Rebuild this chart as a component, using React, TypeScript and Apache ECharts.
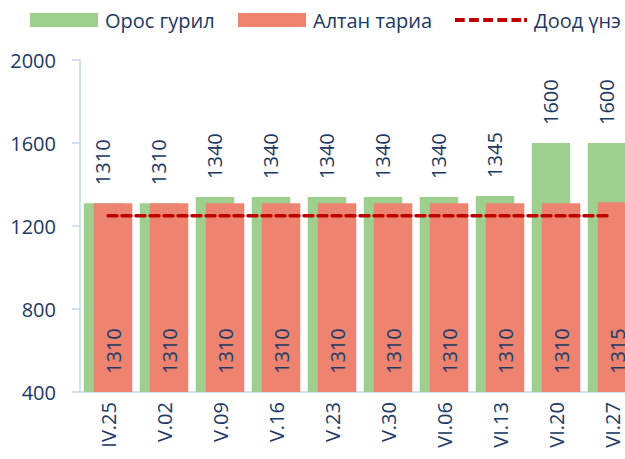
import React, { useEffect, useRef } from "react";
import * as echarts from "echarts";

const categories = ["IV.25", "V.02", "V.09", "V.16", "V.23", "V.30", "VI.06", "VI.13", "VI.20", "VI.27"];
const orosGuril = [1310, 1310, 1340, 1340, 1340, 1340, 1340, 1345, 1600, 1600];
const altanTaria = [1310, 1310, 1310, 1310, 1310, 1310, 1310, 1310, 1310, 1315];
const doodUne = [1250, 1250, 1250, 1250, 1250, 1250, 1250, 1250, 1250, 1250];

const TEXT = "#203864";
const AXIS = "#C5D6EC";
const FONT = "Open Sans";
const DASH_ICON =
  "path://M0,0h10v4h-10zM14.5,0h10v4h-10zM29,0h10v4h-10zM43.5,0h10v4h-10zM58,0h10v4h-10zM71,0h3v4h-3z";

export default function App() {
  const ref = useRef<HTMLDivElement>(null);
  useEffect(() => {
    if (!ref.current) return;
    const chart = echarts.init(ref.current, undefined, { renderer: "svg" });
    const legendBase = {
      top: 10,
      itemWidth: 68,
      itemHeight: 14,
      itemGap: 0,
      icon: "rect",
      textStyle: { color: TEXT, fontSize: 20, fontFamily: FONT, padding: [0, 0, 0, 2] },
      padding: 0,
    };
    chart.setOption({
      animation: false,
      textStyle: { fontFamily: FONT },
      legend: [
        { ...legendBase, left: 30, data: ["Орос гурил"] },
        { ...legendBase, left: 238, data: ["Алтан тариа"] },
        {
          ...legendBase,
          left: 455,
          top: 10,
          itemWidth: 72,
          itemHeight: 4,
          icon: DASH_ICON,
          data: ["Доод үнэ"],
        },
      ],
      grid: { left: 80, top: 60, bottom: 67, width: 560 },
      xAxis: {
        type: "category",
        data: categories,
        axisLine: { lineStyle: { color: AXIS, width: 1.5 } },
        axisTick: { length: 7, lineStyle: { color: AXIS, width: 1.5 } },
        axisLabel: { rotate: 90, color: TEXT, fontSize: 20, fontFamily: FONT, margin: 10 },
      },
      yAxis: {
        type: "value",
        min: 400,
        max: 2000,
        interval: 400,
        splitLine: { show: false },
        axisLine: { show: true, lineStyle: { color: AXIS, width: 1.5 } },
        axisTick: { show: true, length: 8, lineStyle: { color: AXIS, width: 1.5 } },
        axisLabel: {
          color: TEXT,
          fontSize: 20,
          fontFamily: FONT,
          margin: 24,
          formatter: (v: number) => String(v),
        },
      },
      series: [
        {
          name: "Орос гурил",
          type: "bar",
          data: orosGuril,
          barWidth: 38.5,
          barGap: "-74%",
          itemStyle: { color: "#9FCF8F" },
          label: {
            show: true,
            position: "top",
            rotate: 90,
            align: "left",
            verticalAlign: "middle",
            distance: 18,
            color: TEXT,
            fontSize: 20,
            fontFamily: FONT,
          },
        },
        {
          name: "Алтан тариа",
          type: "bar",
          data: altanTaria,
          barWidth: 38.5,
          itemStyle: { color: "#EE8470" },
          label: {
            show: true,
            position: "insideBottom",
            rotate: 90,
            align: "left",
            verticalAlign: "middle",
            distance: 18,
            color: TEXT,
            fontSize: 20,
            fontFamily: FONT,
          },
        },
        {
          name: "Доод үнэ",
          type: "line",
          data: doodUne,
          symbol: "none",
          z: 5,
          lineStyle: { color: "#C00000", width: 3.5, type: [9, 5], cap: "round" },
          itemStyle: { color: "#C00000" },
        },
      ],
    });
    return () => chart.dispose();
  }, []);
  return (
    <div style={{ position: "fixed", left: 0, top: 0, width: 625, height: 459, overflow: "hidden", background: "#fff" }}>
      <div ref={ref} style={{ width: 650, height: 459 }} />
    </div>
  );
}
